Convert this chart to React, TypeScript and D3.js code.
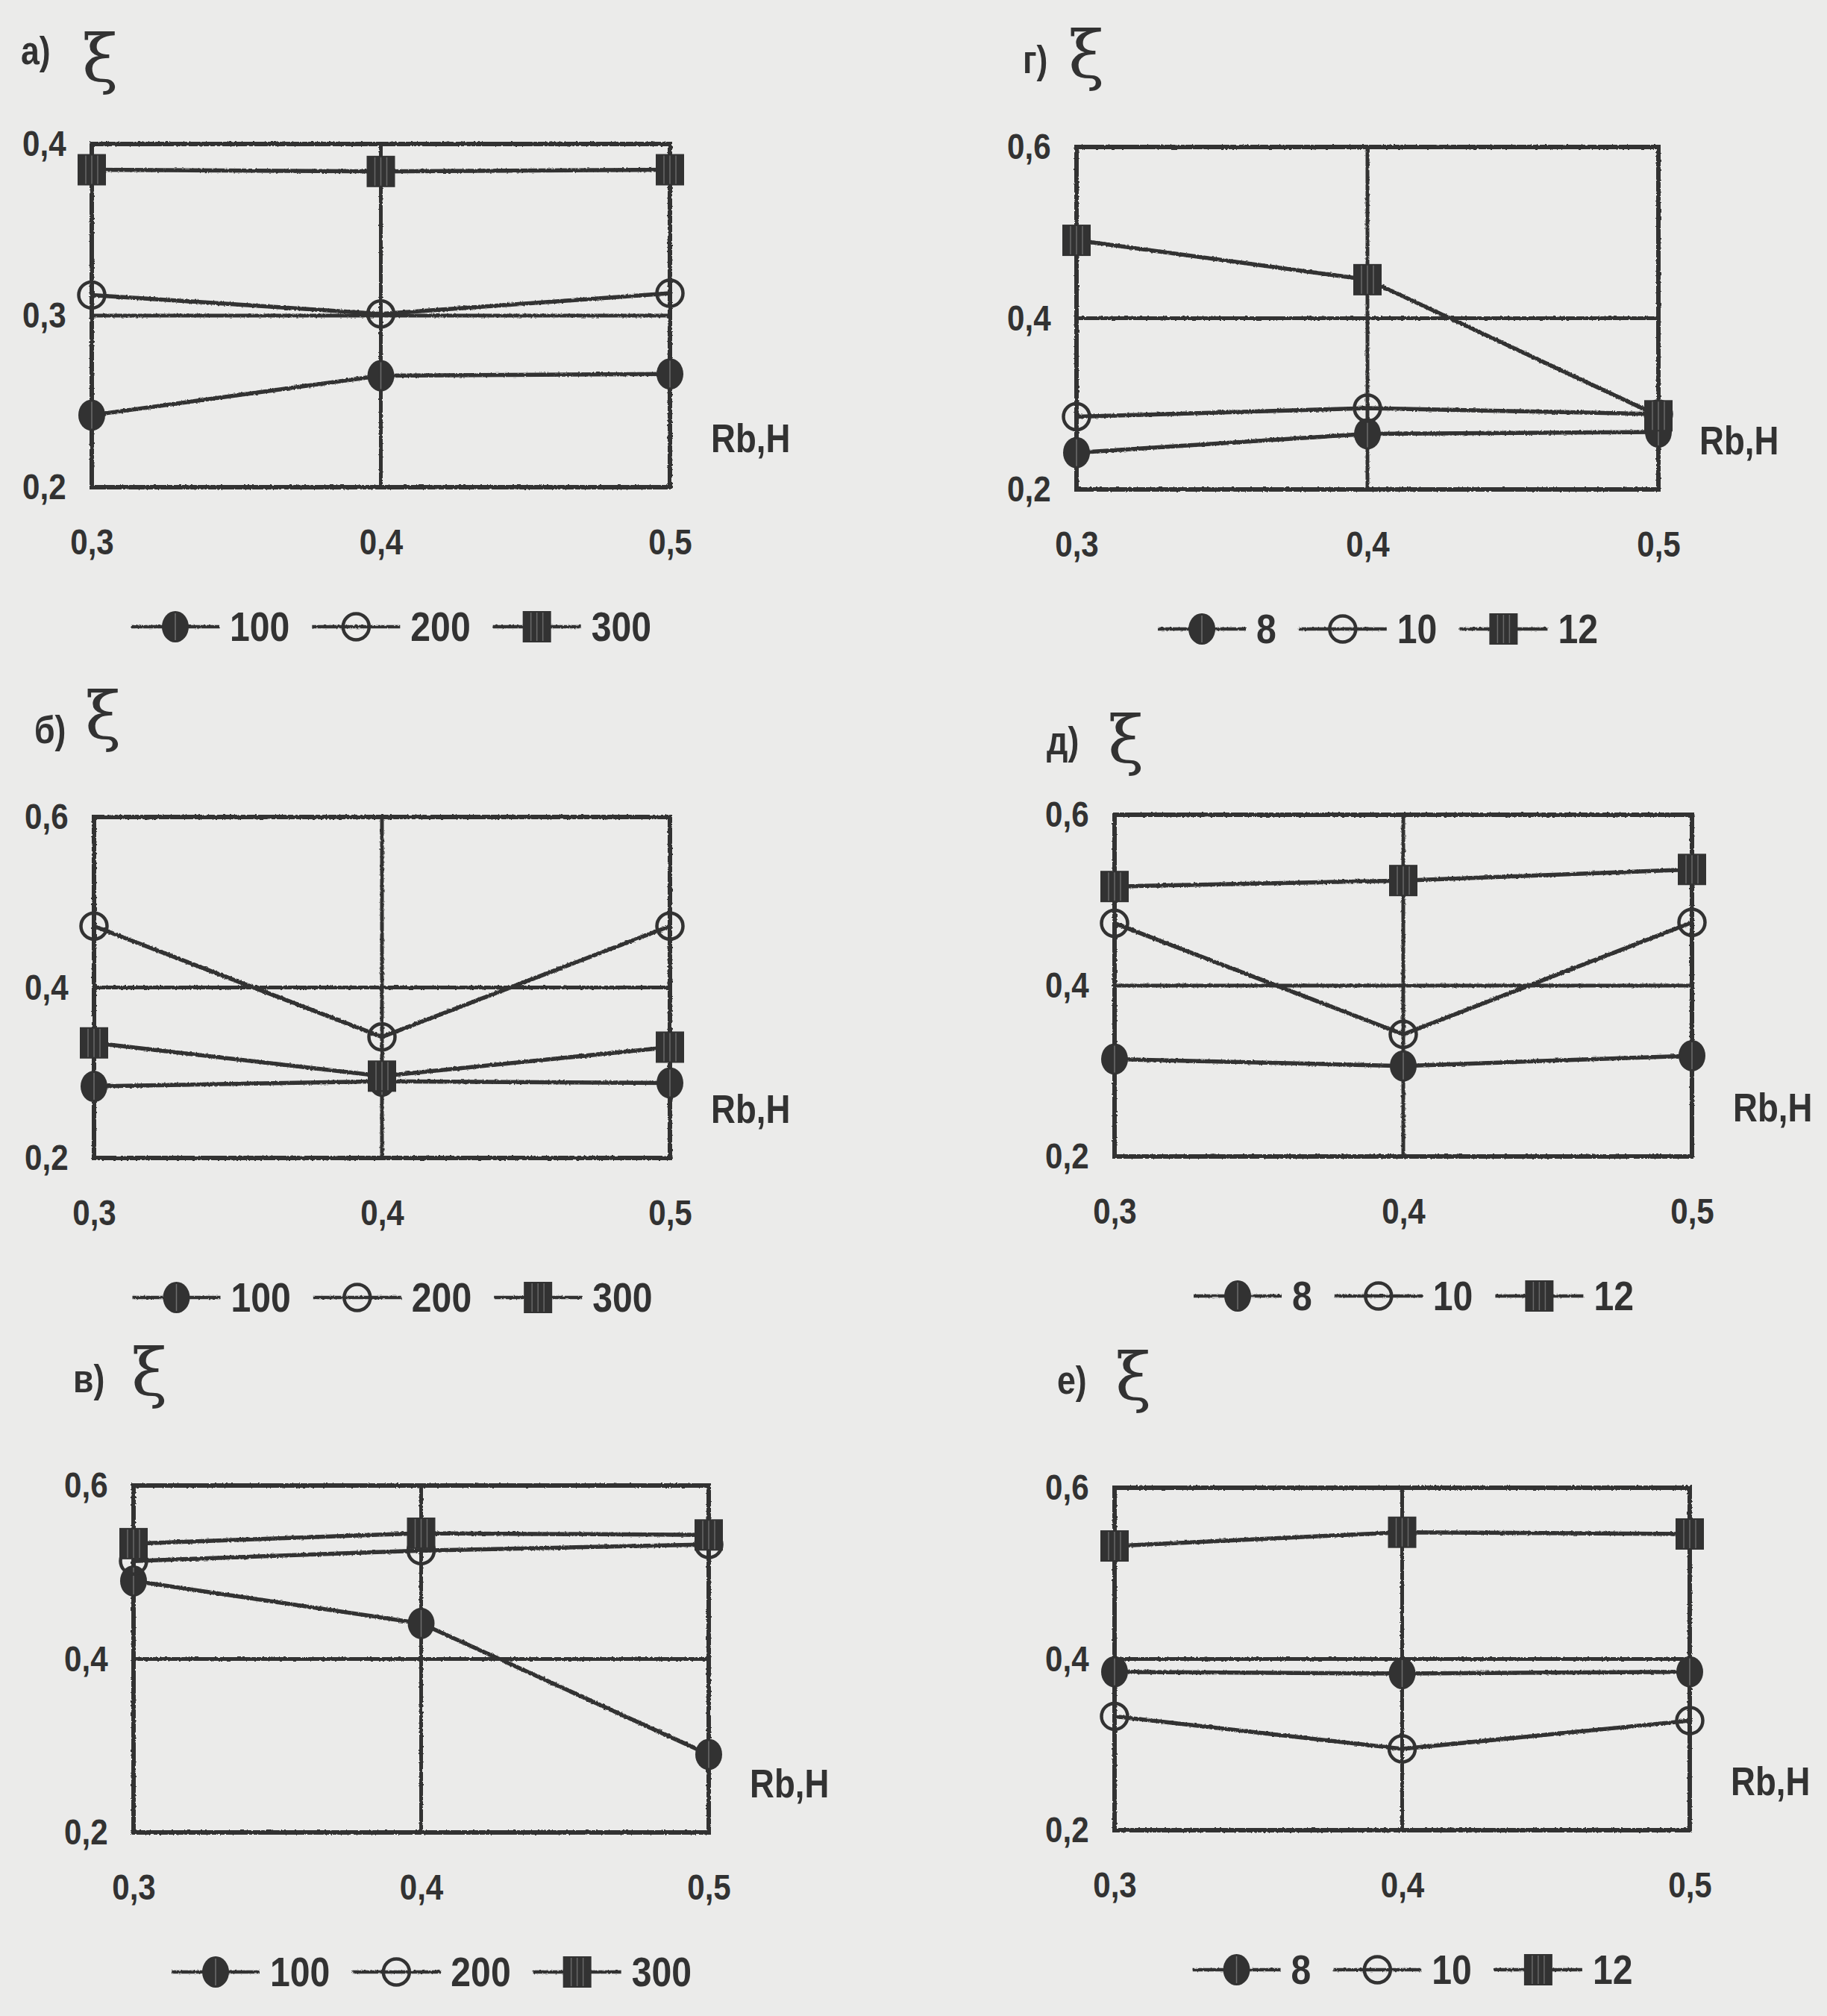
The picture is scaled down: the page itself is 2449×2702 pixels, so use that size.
import { useEffect, useRef } from 'react';
import * as d3 from 'd3';

const WIDTH = 2449;
const HEIGHT = 2702;
const INK = '#323232';
const PAPER = '#ebebea';
const SQUEEZE = 0.86;

// x values (Rb, H) shared by all six panels
const rbValues = [0.3, 0.4, 0.5];

// series names
const loadNames = ['100', '200', '300'];
const countNames = ['8', '10', '12'];

// y ticks
const yTicksNarrow = [0.2, 0.3, 0.4];
const yTicksWide = [0.2, 0.4, 0.6];

// а)
const a100 = [0.242, 0.265, 0.266];
const a200 = [0.312, 0.301, 0.313];
const a300 = [0.385, 0.384, 0.385];
// б)
const b100 = [0.284, 0.29, 0.288];
const b200 = [0.472, 0.342, 0.472];
const b300 = [0.335, 0.296, 0.33];
// в)
const v100 = [0.49, 0.441, 0.29];
const v200 = [0.513, 0.525, 0.532];
const v300 = [0.533, 0.545, 0.543];
// г)
const g8 = [0.243, 0.265, 0.267];
const g10 = [0.285, 0.295, 0.288];
const g12 = [0.491, 0.445, 0.286];
// д)
const d8 = [0.314, 0.306, 0.318];
const d10 = [0.473, 0.343, 0.474];
const d12 = [0.516, 0.523, 0.536];
// е)
const e8 = [0.385, 0.383, 0.385];
const e10 = [0.333, 0.295, 0.328];
const e12 = [0.532, 0.548, 0.546];

// panel placement on the page
const panels = [
  { label: 'а)', box: [123, 193, 898, 653], yTicks: yTicksNarrow, grid: 0.3, names: loadNames, series: [a100, a200, a300], lab: [28, 86], xi: [110, 109] },
  { label: 'б)', box: [126, 1095, 898, 1552], yTicks: yTicksWide, grid: 0.4, names: loadNames, series: [b100, b200, b300], lab: [46, 996], xi: [114, 990] },
  { label: 'в)', box: [179, 1991, 950, 2456], yTicks: yTicksWide, grid: 0.4, names: loadNames, series: [v100, v200, v300], lab: [98, 1866], xi: [176, 1870] },
  { label: 'г)', box: [1443, 197, 2223, 656], yTicks: yTicksWide, grid: 0.4, names: countNames, series: [g8, g10, g12], lab: [1371, 98], xi: [1432, 104] },
  { label: 'д)', box: [1494, 1092, 2268, 1550], yTicks: yTicksWide, grid: 0.4, names: countNames, series: [d8, d10, d12], lab: [1403, 1011], xi: [1485, 1022] },
  { label: 'е)', box: [1494, 1994, 2265, 2453], yTicks: yTicksWide, grid: 0.4, names: countNames, series: [e8, e10, e12], lab: [1417, 1868], xi: [1495, 1876] },
];

const comma = (v) => d3.format('.1f')(v).replace('.', ',');

// 0 - filled circle, 1 - open circle, 2 - striped square
const drawMarker = (g, type, cx, cy) => {
  if (type === 0) {
    g.append('ellipse')
      .attr('cx', cx).attr('cy', cy)
      .attr('rx', 18).attr('ry', 21)
      .attr('fill', INK);
    g.append('line')
      .attr('x1', cx).attr('x2', cx)
      .attr('y1', cy - 18).attr('y2', cy + 18)
      .attr('stroke', '#6e6e6e').attr('stroke-width', 1.5);
  } else if (type === 1) {
    g.append('circle')
      .attr('cx', cx).attr('cy', cy)
      .attr('r', 17.5)
      .attr('fill', 'none')
      .attr('stroke', INK)
      .attr('stroke-width', 4.5);
  } else {
    g.append('rect')
      .attr('x', cx - 19).attr('y', cy - 21)
      .attr('width', 38).attr('height', 42)
      .attr('fill', INK);
    [-8, 0, 8].forEach(dx => {
      g.append('line')
        .attr('x1', cx + dx).attr('x2', cx + dx)
        .attr('y1', cy - 19).attr('y2', cy + 19)
        .attr('stroke', '#686868').attr('stroke-width', 1.5);
    });
  }
};

const App = () => {
  const ref = useRef(null);

  useEffect(() => {
    d3.select(ref.current).selectAll('*').remove();

    const svg = d3.select(ref.current)
      .append('svg')
      .attr('width', WIDTH)
      .attr('height', HEIGHT)
      .style('position', 'absolute')
      .style('left', 0)
      .style('top', 0)
      .style('font-family', "'Liberation Sans', Arial, sans-serif");

    // slightly wobbly strokes like the scanned print
    const defs = svg.append('defs');
    const rough = defs.append('filter')
      .attr('id', 'rough')
      .attr('filterUnits', 'userSpaceOnUse')
      .attr('x', 0).attr('y', 0)
      .attr('width', WIDTH).attr('height', HEIGHT);
    rough.append('feTurbulence')
      .attr('type', 'fractalNoise')
      .attr('baseFrequency', 0.35)
      .attr('numOctaves', 2)
      .attr('seed', 3)
      .attr('result', 'noise');
    rough.append('feDisplacementMap')
      .attr('in', 'SourceGraphic')
      .attr('in2', 'noise')
      .attr('scale', 3)
      .attr('xChannelSelector', 'R')
      .attr('yChannelSelector', 'G');

    svg.append('rect')
      .attr('width', WIDTH)
      .attr('height', HEIGHT)
      .attr('fill', PAPER);

    // condensed-looking text, as in the printed figure
    const addText = (g, x, y, str, size, opts = {}) => {
      const t = g.append('text')
        .attr('transform', `translate(${x}, ${y}) scale(${SQUEEZE}, 1)`)
        .attr('font-size', size)
        .attr('font-weight', opts.weight || 'bold')
        .attr('fill', INK)
        .attr('text-anchor', opts.anchor || 'start')
        .attr('dominant-baseline', opts.baseline || 'central')
        .text(str);
      return t;
    };

    panels.forEach(p => {
      const [x0, y0, x1, y1] = p.box;
      const yDomain = d3.extent(p.yTicks);

      const scaleX = d3.scaleLinear().domain(d3.extent(rbValues)).range([x0, x1]);
      const scaleY = d3.scaleLinear().domain(yDomain).range([y1, y0]);

      const graph = svg.append('g');
      const ink = graph.append('g').attr('filter', 'url(#rough)');

      // grid lines
      ink.append('line')
        .attr('x1', scaleX(0.4)).attr('x2', scaleX(0.4))
        .attr('y1', y0).attr('y2', y1)
        .attr('stroke', INK).attr('stroke-width', 5);
      ink.append('line')
        .attr('x1', x0).attr('x2', x1)
        .attr('y1', scaleY(p.grid)).attr('y2', scaleY(p.grid))
        .attr('stroke', INK).attr('stroke-width', 5);

      // frame
      ink.append('rect')
        .attr('x', x0).attr('y', y0)
        .attr('width', x1 - x0).attr('height', y1 - y0)
        .attr('fill', 'none')
        .attr('stroke', INK)
        .attr('stroke-width', 6);

      // tick labels
      const xAxis = d3.axisBottom(scaleX)
        .tickValues(rbValues)
        .tickSize(0)
        .tickPadding(55)
        .tickFormat(comma);
      const yAxis = d3.axisLeft(scaleY)
        .tickValues(p.yTicks)
        .tickSize(0)
        .tickPadding(40)
        .tickFormat(comma);

      const xAxisGroup = graph.append('g')
        .attr('transform', `translate(0, ${y1})`)
        .call(xAxis);
      const yAxisGroup = graph.append('g')
        .attr('transform', `translate(${x0}, 0)`)
        .call(yAxis);
      [xAxisGroup, yAxisGroup].forEach(ax => {
        ax.select('.domain').remove();
        ax.selectAll('text')
          .attr('fill', INK)
          .attr('font-size', 49)
          .attr('font-weight', 'bold')
          .attr('transform', `scale(${SQUEEZE}, 1)`)
          .attr('font-family', "'Liberation Sans', Arial, sans-serif");
      });

      // series lines
      const line = d3.line()
        .x((d, i) => scaleX(rbValues[i]))
        .y(d => scaleY(d));
      p.series.forEach(s => {
        ink.append('path')
          .datum(s)
          .attr('fill', 'none')
          .attr('stroke', INK)
          .attr('stroke-width', 5.5)
          .attr('d', line);
      });

      // markers
      p.series.forEach((s, k) => {
        s.forEach((v, i) => drawMarker(graph, k, scaleX(rbValues[i]), scaleY(v)));
      });

      // axis title
      addText(graph, x1 + 55, y1 - 66, 'Rb,H', 53);

      // panel label and ξ
      addText(graph, p.lab[0], p.lab[1], p.label, 52, { baseline: 'auto' });
      graph.append('text')
        .attr('x', p.xi[0]).attr('y', p.xi[1])
        .attr('font-size', 88)
        .attr('font-family', "'DejaVu Serif', serif")
        .attr('fill', INK)
        .text('ξ');

      // legend
      const legend = graph.append('g');
      const legendLines = legend.append('g').attr('filter', 'url(#rough)');
      const ly = y1 + 187;
      let cursor = 0;
      p.names.forEach((name, k) => {
        legendLines.append('line')
          .attr('x1', cursor).attr('x2', cursor + 118)
          .attr('y1', ly).attr('y2', ly)
          .attr('stroke', INK).attr('stroke-width', 4.5);
        drawMarker(legend, k, cursor + 59, ly);
        const t = addText(legend, cursor + 132, ly, name, 56);
        cursor += 132 + t.node().getComputedTextLength() * SQUEEZE + 30;
      });
      const legendWidth = cursor - 30;
      const centre = (x0 + x1) / 2 + 14;
      legend.attr('transform', `translate(${centre - legendWidth / 2}, 0)`);
    });
  }, []);

  return <div ref={ref}></div>;
};

export default App;
